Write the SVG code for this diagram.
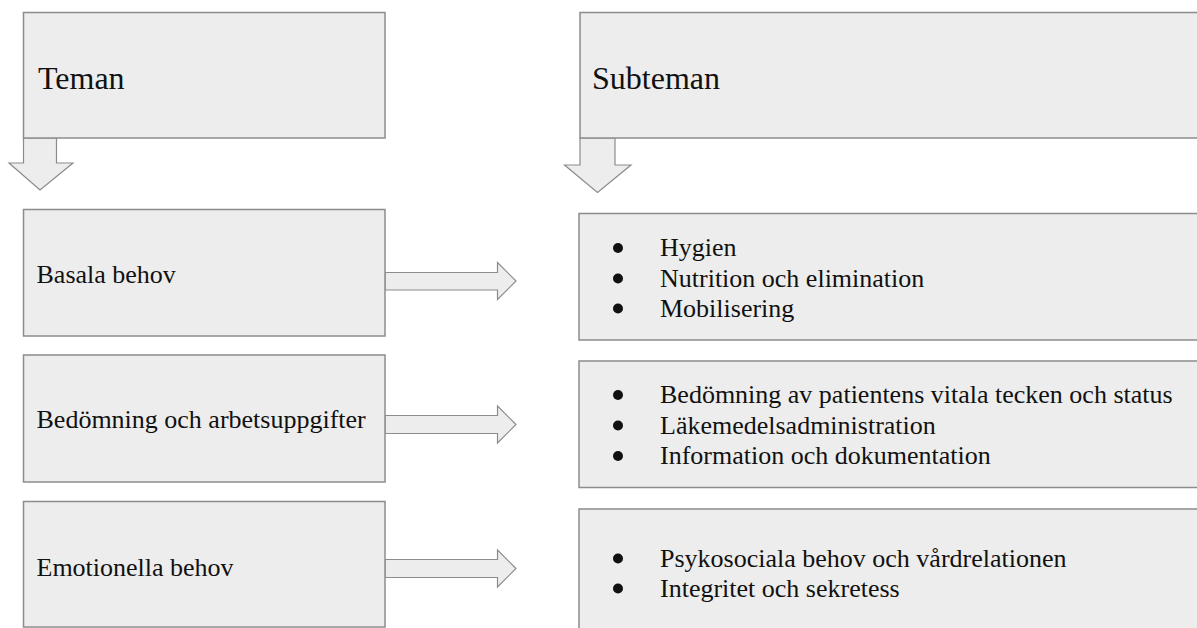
<svg xmlns="http://www.w3.org/2000/svg" width="1197" height="628" viewBox="0 0 1197 628">
<style>
.box{fill:#ededed;stroke:#8c8c8c;stroke-width:1.5}
.arr{fill:#ededed;stroke:#8c8c8c;stroke-width:1.2;stroke-linejoin:miter}
.h{font-family:"Liberation Serif","Times New Roman",serif;font-size:32px;fill:#111}
.t{font-family:"Liberation Serif","Times New Roman",serif;font-size:26px;fill:#111}
.b{fill:#111}
</style>
<rect width="1197" height="628" fill="#ffffff"/>
<g id="connectors">
<polygon class="arr" points="23.5,138 56.5,138 56.5,163 73,163 40,190 9,163 23.5,163"/>
<polygon class="arr" points="580,138 615,138 615,165 631,165 597.5,192.5 564.5,165 580,165"/>
<polygon class="arr" points="385,272.5 497.5,272.5 497.5,262.5 516,281 497.5,299.5 497.5,290 385,290"/>
<polygon class="arr" points="385,415.5 497.5,415.5 497.5,406 516,424.5 497.5,443 497.5,433.5 385,433.5"/>
<polygon class="arr" points="385,559.5 497.5,559.5 497.5,550 516,568.5 497.5,587 497.5,577.5 385,577.5"/>
</g>
<g id="teman">
<rect class="box" x="23.5" y="12.5" width="361.5" height="125.5"/>
<text class="h" x="38" y="89">Teman</text>
</g>
<g id="subteman">
<rect class="box" x="580" y="12.5" width="630" height="125.5"/>
<text class="h" x="592" y="89">Subteman</text>
</g>
<g id="basala">
<rect class="box" x="23.5" y="209.5" width="361.5" height="126.5"/>
<text class="t" x="36.5" y="283">Basala behov</text>
</g>
<g id="bedomning">
<rect class="box" x="23.5" y="355" width="361.5" height="127"/>
<text class="t" x="36.5" y="428">Bedömning och arbetsuppgifter</text>
</g>
<g id="emotionella">
<rect class="box" x="23.5" y="501.5" width="361.5" height="125.5"/>
<text class="t" x="36.5" y="576">Emotionella behov</text>
</g>
<g id="sub-basala">
<rect class="box" x="579" y="213.5" width="630" height="126.5"/>
<circle class="b" cx="618" cy="248" r="5"/>
<circle class="b" cx="618" cy="278.5" r="5"/>
<circle class="b" cx="618" cy="308.5" r="5"/>
<text class="t" x="660" y="256">Hygien</text>
<text class="t" x="660" y="286.5">Nutrition och elimination</text>
<text class="t" x="660" y="316.5">Mobilisering</text>
</g>
<g id="sub-bedomning">
<rect class="box" x="579" y="361" width="630" height="126.5"/>
<circle class="b" cx="618" cy="395" r="5"/>
<circle class="b" cx="618" cy="425.5" r="5"/>
<circle class="b" cx="618" cy="456" r="5"/>
<text class="t" x="660" y="403">Bedömning av patientens vitala tecken och status</text>
<text class="t" x="660" y="433.5">Läkemedelsadministration</text>
<text class="t" x="660" y="464">Information och dokumentation</text>
</g>
<g id="sub-emotionella">
<rect class="box" x="579" y="509" width="630" height="130"/>
<circle class="b" cx="618" cy="558.5" r="5"/>
<circle class="b" cx="618" cy="588.5" r="5"/>
<text class="t" x="660" y="566.5">Psykosociala behov och vårdrelationen</text>
<text class="t" x="660" y="596.5">Integritet och sekretess</text>
</g>
</svg>
